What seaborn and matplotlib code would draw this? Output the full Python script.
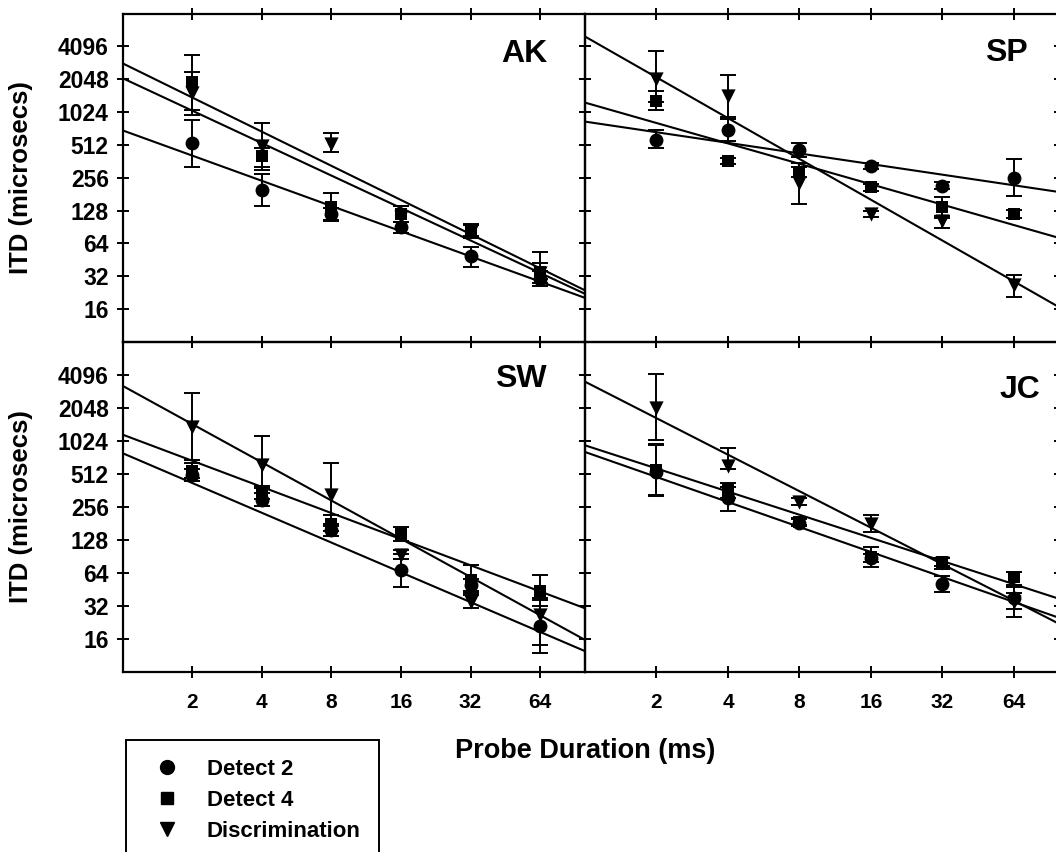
import numpy as np
import pandas as pd
import matplotlib
matplotlib.use("Agg")
import matplotlib.pyplot as plt
from matplotlib.lines import Line2D
from matplotlib.ticker import FixedLocator, FixedFormatter, NullLocator
import seaborn as sns

sns.set_theme(style="white")
plt.rcParams["font.family"] = ["Liberation Sans", "DejaVu Sans"]
plt.rcParams["font.weight"] = "bold"
plt.rcParams["text.color"] = "black"
plt.rcParams["axes.labelcolor"] = "black"
plt.rcParams["xtick.color"] = "black"
plt.rcParams["ytick.color"] = "black"
plt.rcParams["legend.labelcolor"] = "black"

# ---------------- data ----------------
durations = [2, 4, 8, 16, 32, 64]
x_tick_values = [2, 4, 8, 16, 32, 64]
y_tick_values = [16, 32, 64, 128, 256, 512, 1024, 2048, 4096]
series_names = ["Detect 2", "Detect 4", "Discrimination"]
panel_names = ["AK", "SP", "SW", "JC"]

# AK
ak_d2 = [530, 199, 119, 90, 49, 30.5]
ak_d2_lo = [322, 140, 105, 80, 39, 26]
ak_d2_hi = [866, 280, 135, 100, 60, 36]
ak_d4 = [1924, 401, 137, 119, 84, 35]
ak_d4_lo = [1070, 300, 103, 100, 75, 30]
ak_d4_hi = [2380, 480, 186, 140, 95, 42]
ak_ds = [1530, 500, 520, 111, 81, 34]
ak_ds_lo = [960, 318, 437, 100, 72, 28]
ak_ds_hi = [3400, 820, 660, 142, 97, 53]
ak_fit_at1 = [695, 2090, 2860]
ak_fit_at100 = [20.3, 22.1, 23.8]

# SP
sp_d2 = [564, 704, 463, 328, 216, 256]
sp_d2_lo = [481, 553, 400, 310, 200, 175]
sp_d2_hi = [697, 886, 538, 350, 235, 380]
sp_d4 = [1300, 365, 290, 210, 137, 120]
sp_d4_lo = [1070, 340, 260, 195, 110, 110]
sp_d4_hi = [1580, 390, 320, 225, 172, 130]
sp_ds = [2048, 1450, 228, 120, 102, 26.4]
sp_ds_lo = [1260, 917, 147, 112, 89, 20.7]
sp_ds_hi = [3690, 2240, 350, 128, 115, 33]
sp_fit_at1 = [837, 1250, 5040]
sp_fit_at100 = [189, 71.5, 16.5]

# SW
sw_d2 = [500, 296, 158, 68, 50, 21]
sw_d2_lo = [440, 260, 140, 48, 44, 12]
sw_d2_hi = [570, 340, 180, 96, 57, 36]
sw_d4 = [546, 345, 181, 144, 55, 44]
sw_d4_lo = [470, 300, 155, 125, 42, 32]
sw_d4_hi = [640, 400, 215, 167, 76, 62]
sw_ds = [1365, 617, 329, 93.5, 35, 26.5]
sw_ds_lo = [685, 380, 170, 85, 31, 14]
sw_ds_hi = [2790, 1145, 640, 103, 40, 38]
sw_fit_at1 = [792, 1170, 3260]
sw_fit_at100 = [12.4, 30.5, 15.7]

# JC
jc_d2 = [537, 307, 184, 88, 51, 38]
jc_d2_lo = [324, 237, 170, 80, 43, 25.6]
jc_d2_hi = [955, 390, 200, 96, 60, 48]
jc_d4 = [556, 366, 188, 90, 81, 58.5]
jc_d4_lo = [330, 310, 175, 73, 74, 50]
jc_d4_hi = [940, 428, 205, 110, 88, 65]
jc_ds = [2030, 605, 286, 179, 79, 35]
jc_ds_lo = [1045, 563, 265, 150, 70, 30]
jc_ds_hi = [4150, 880, 310, 217, 88, 42]
jc_fit_at1 = [813, 935, 3560]
jc_fit_at100 = [24.8, 37, 21.8]

fit_x = [1, 100]

panels = {
    "AK": ([ak_d2, ak_d4, ak_ds], [ak_d2_lo, ak_d4_lo, ak_ds_lo], [ak_d2_hi, ak_d4_hi, ak_ds_hi], ak_fit_at1, ak_fit_at100),
    "SP": ([sp_d2, sp_d4, sp_ds], [sp_d2_lo, sp_d4_lo, sp_ds_lo], [sp_d2_hi, sp_d4_hi, sp_ds_hi], sp_fit_at1, sp_fit_at100),
    "SW": ([sw_d2, sw_d4, sw_ds], [sw_d2_lo, sw_d4_lo, sw_ds_lo], [sw_d2_hi, sw_d4_hi, sw_ds_hi], sw_fit_at1, sw_fit_at100),
    "JC": ([jc_d2, jc_d4, jc_ds], [jc_d2_lo, jc_d4_lo, jc_ds_lo], [jc_d2_hi, jc_d4_hi, jc_ds_hi], jc_fit_at1, jc_fit_at100),
}

rows = []
for pname, (vals, los, his, f1, f100) in panels.items():
    for sname, v, lo, hi in zip(series_names, vals, los, his):
        for d, vv, l, h in zip(durations, v, lo, hi):
            rows.append(dict(panel=pname, series=sname, duration=d, itd=vv, lo=l, hi=h))
df = pd.DataFrame(rows)

# ---------------- figure ----------------
W, H = 1056, 852
fig = plt.figure(figsize=(W / 100, H / 100), dpi=100)

left_x0, left_x1 = 122.7, 585.0
right_x0, right_x1 = 585.0, 1060.0
top_y0, top_y1 = 13.5, 342.0
bot_y0, bot_y1 = 342.0, 672.0

def rect(x0, x1, y0, y1):
    return [x0 / W, 1 - y1 / H, (x1 - x0) / W, (y1 - y0) / H]

axes = {
    "AK": fig.add_axes(rect(left_x0, left_x1, top_y0, top_y1)),
    "SP": fig.add_axes(rect(right_x0, right_x1, top_y0, top_y1)),
    "SW": fig.add_axes(rect(left_x0, left_x1, bot_y0, bot_y1)),
    "JC": fig.add_axes(rect(right_x0, right_x1, bot_y0, bot_y1)),
}

markers = {"Detect 2": "o", "Detect 4": "s", "Discrimination": "v"}
msizes = {"Detect 2": 100, "Detect 4": 75, "Discrimination": 105}

label_pos = {"AK": (0.918, 0.877), "SP": (0.932, 0.88), "SW": (0.918, 0.888), "JC": (0.958, 0.855)}

for pname, ax in axes.items():
    sub = df[df.panel == pname]
    f1, f100 = panels[pname][3], panels[pname][4]
    for i, sname in enumerate(series_names):
        s = sub[sub.series == sname]
        ax.errorbar(s.duration, s.itd, yerr=[s.itd - s.lo, s.hi - s.itd], fmt="none",
                    ecolor="black", elinewidth=1.4, capsize=5.5, capthick=1.4, zorder=2)
        sns.lineplot(x=fit_x, y=[f1[i], f100[i]], color="black", lw=1.5, ax=ax,
                     estimator=None, legend=False, zorder=3)
        sns.scatterplot(data=s, x="duration", y="itd", marker=markers[sname], s=msizes[sname],
                        color="black", edgecolor="black", linewidth=0, ax=ax, legend=False, zorder=4)
    ax.set_xscale("log", base=2)
    ax.set_yscale("log", base=2)
    ax.set_xlim(1, 100)
    ax.set_ylim(8, 8192)
    ax.xaxis.set_major_locator(FixedLocator(x_tick_values))
    ax.xaxis.set_major_formatter(FixedFormatter([str(v) for v in x_tick_values]))
    ax.yaxis.set_major_locator(FixedLocator(y_tick_values))
    ax.yaxis.set_major_formatter(FixedFormatter([str(v) for v in y_tick_values]))
    ax.xaxis.set_minor_locator(NullLocator())
    ax.yaxis.set_minor_locator(NullLocator())
    ax.tick_params(axis="both", which="major", direction="inout", length=8, width=1.4,
                   top=True, right=True, bottom=True, left=True, color="black",
                   labelcolor="black")
    ax.tick_params(axis="y", labelsize=16.5, pad=6)
    ax.tick_params(axis="x", labelsize=15, pad=11)
    for sp in ax.spines.values():
        sp.set_visible(True)
        sp.set_color("black")
        sp.set_linewidth(1.6)
    ax.set_xlabel("")
    ax.set_ylabel("")
    ax.set_facecolor("none")
    if pname in ("SP", "JC"):
        ax.tick_params(axis="y", labelleft=False)
    if pname in ("AK", "SP"):
        ax.tick_params(axis="x", labelbottom=False)
    for lab in ax.get_xticklabels() + ax.get_yticklabels():
        lab.set_fontweight("bold")
    lx, ly = label_pos[pname]
    ax.text(lx, ly, pname, transform=ax.transAxes, ha="right", va="center",
            fontsize=23, fontweight="bold", color="black")

for pname in ("AK", "SW"):
    ax = axes[pname]
    ax.set_ylabel("ITD (microsecs)", fontsize=18.5, fontweight="bold", color="black")
    ax.yaxis.set_label_coords(-0.194, 0.5)

fig.text(585 / W, 1 - 751 / H, "Probe Duration (ms)", ha="center", va="center",
         fontsize=19.5, fontweight="bold", color="black")

handles = [Line2D([], [], linestyle="none", marker=markers[n], color="black",
                  markersize={"Detect 2": 10, "Detect 4": 8, "Discrimination": 10}[n]) for n in series_names]
leg = fig.legend(handles, series_names, loc="upper left",
                 bbox_to_anchor=(125.7 / W, 1 - 740 / H, 253 / W, 0), mode="expand",
                 borderaxespad=0, frameon=True, fancybox=False, shadow=False, framealpha=1,
                 edgecolor="black", prop={"size": 16, "weight": "bold"}, labelcolor="black",
                 borderpad=0.85, labelspacing=0.45, handlelength=2.0, handletextpad=0.8)
leg.get_frame().set_linewidth(1.4)

fig.savefig("out.png", dpi=100, facecolor="white")
